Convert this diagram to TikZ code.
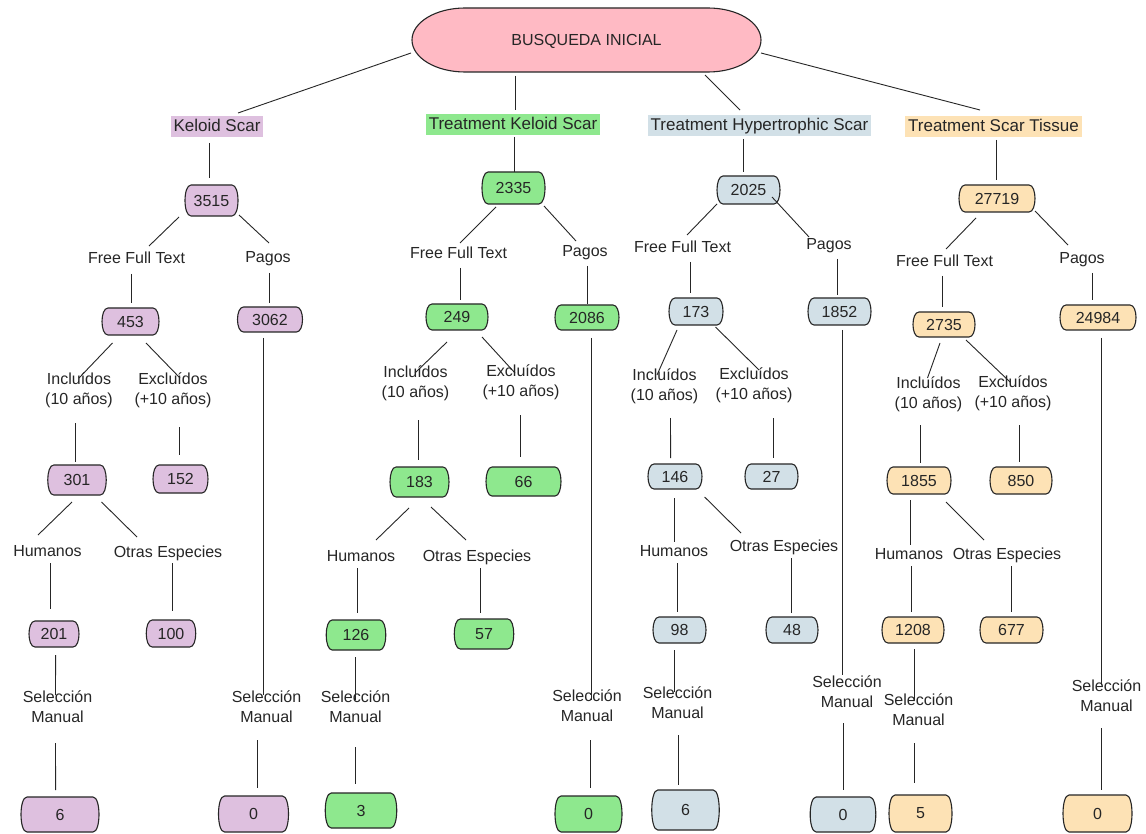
\documentclass[tikz,border=0pt]{standalone}
\usepackage{fontspec}
\setmainfont{Liberation Sans}
\usetikzlibrary{calc}
\definecolor{cpink}{HTML}{FFBAC4}
\definecolor{cviolet}{HTML}{DEC0DF}
\definecolor{cgreen}{HTML}{8EE88E}
\definecolor{cblue}{HTML}{D2E0E7}
\definecolor{corange}{HTML}{FDE2B5}
\tikzset{
 conn/.style={draw=black!85, line width=0.9pt},
 boxline/.style={draw=black!85, line width=1.1pt},
 numtext/.style={inner sep=0pt, font=\fontsize{16}{19}\selectfont, text=black!85},
 lbl/.style={inner sep=0pt, font=\fontsize{16}{20}\selectfont, align=center, text=black!85, text height=11.5pt, text depth=3.5pt},
 ttl/.style={inner xsep=3pt, inner ysep=0pt, minimum height=21pt, font=\fontsize{17}{20}\selectfont, text=black!85, text height=12pt, text depth=3.5pt},
}
\newcommand\nb[7]{%
 \path[boxline, fill=#6] ({#2-#4/2+6},{-#3+#5/2}) -- ({#2+#4/2-6},{-#3+#5/2}) .. controls ({#2+#4/2+2},{-#3+#5/2}) and ({#2+#4/2+2},{-#3-#5/2}) .. ({#2+#4/2-6},{-#3-#5/2}) -- ({#2-#4/2+6},{-#3-#5/2}) .. controls ({#2-#4/2-2},{-#3-#5/2}) and ({#2-#4/2-2},{-#3+#5/2}) .. cycle;
 \node[numtext, minimum width=#4, minimum height=#5] (#1) at (#2,-#3) {#7};}
\newcommand\cnx[6]{\draw[conn] ([shift={(#2,#3)}]#1.center) -- ([shift={(#5,#6)}]#4.center);}
\begin{document}
\begin{tikzpicture}[x=1pt,y=1pt]
\fill[white] (0,0) rectangle (1146,-834);
\useasboundingbox (0,0) rectangle (1146,-834);
% root
\path[boxline, fill=cpink] (465,-8) -- (708,-8) arc[start angle=90,end angle=-90,x radius=53,y radius=32] -- (465,-72) arc[start angle=270,end angle=90,x radius=53,y radius=32] -- cycle;
\node[numtext, minimum width=349, minimum height=64] (root) at (586.5,-41) {BUSQUEDA INICIAL};
% titles
\node[ttl, fill=cviolet] (kel) at (217,-127) {Keloid Scar};
\node[ttl, fill=cgreen] (tks) at (513,-125) {Treatment Keloid Scar};
\node[ttl, fill=cblue] (ths) at (759.5,-126) {Treatment Hypertrophic Scar};
\node[ttl, fill=corange] (tst) at (993.5,-127) {Treatment Scar Tissue};
% boxes
\nb{v3515}{211.5}{200.5}{53}{31}{cviolet}{3515}
\nb{v453}{130.5}{321.5}{57}{27}{cviolet}{453}
\nb{v3062}{270}{319.5}{65}{25}{cviolet}{3062}
\nb{v301}{77}{480}{58.5}{30}{cviolet}{301}
\nb{v152}{180.5}{479}{55}{28}{cviolet}{152}
\nb{v201}{54}{634}{50}{26}{cviolet}{201}
\nb{v100}{171}{633.5}{49.5}{27}{cviolet}{100}
\nb{v6}{60}{814.5}{78}{35}{cviolet}{6}
\nb{v0}{253.5}{814}{70}{36}{cviolet}{0}
\nb{g2335}{513.5}{188}{63}{32}{cgreen}{2335}
\nb{g249}{457}{317}{62}{26}{cgreen}{249}
\nb{g2086}{587}{317.5}{64}{25}{cgreen}{2086}
\nb{g183}{419.5}{482}{59}{30}{cgreen}{183}
\nb{g66}{523.5}{481.5}{75}{29}{cgreen}{66}
\nb{g126}{356}{635}{59.6}{30}{cgreen}{126}
\nb{g57}{484}{634}{59.5}{30}{cgreen}{57}
\nb{g3}{361}{810.5}{71.5}{35}{cgreen}{3}
\nb{g0}{588.5}{814}{67}{36}{cgreen}{0}
\nb{b2025}{748.5}{190}{63}{28}{cblue}{2025}
\nb{b173}{696}{311.5}{54}{27}{cblue}{173}
\nb{b1852}{839.5}{311.5}{63}{27}{cblue}{1852}
\nb{b146}{675}{476.5}{54}{25}{cblue}{146}
\nb{b27}{771.5}{476.5}{53}{25}{cblue}{27}
\nb{b98}{679.5}{630}{53}{26}{cblue}{98}
\nb{b48}{792}{630}{52}{26}{cblue}{48}
\nb{b6}{685.5}{810}{67.5}{40}{cblue}{6}
\nb{b0}{843}{814.5}{65.6}{35}{cblue}{0}
\nb{o27719}{997}{198.5}{76}{27}{corange}{27719}
\nb{o2735}{944}{324.5}{62}{25}{corange}{2735}
\nb{o24984}{1098}{317.5}{76}{25}{corange}{24984}
\nb{o1855}{919}{480.5}{64}{27}{corange}{1855}
\nb{o850}{1021}{480.5}{62}{27}{corange}{850}
\nb{o1208}{913}{630}{62}{26}{corange}{1208}
\nb{o677}{1011.5}{630}{63}{26}{corange}{677}
\nb{o5}{920.5}{813.5}{63}{37}{corange}{5}
\nb{o0}{1097.5}{813.5}{69}{37}{corange}{0}
% labels
\node[lbl] (vfft) at (136.5,-260) {Free Full Text};
\node[lbl] (vpag) at (268,-259) {Pagos};
\node[lbl] (vinc) at (79,-400) {Incluídos\\(10 años)};
\node[lbl] (vexc) at (173,-400) {Excluídos\\(+10 años)};
\node[lbl] (vhum) at (47.5,-552) {Humanos};
\node[lbl] (voth) at (168,-553) {Otras Especies};
\node[lbl] (vsel) at (57.5,-718) {Selección\\Manual};
\node[lbl] (vselb) at (266.5,-718) {Selección\\Manual};
\node[lbl] (gfft) at (458.5,-255) {Free Full Text};
\node[lbl] (gpag) at (585,-253) {Pagos};
\node[lbl] (ginc) at (415.5,-393) {Incluídos\\(10 años)};
\node[lbl] (gexc) at (521,-392) {Excluídos\\(+10 años)};
\node[lbl] (ghum) at (361,-557) {Humanos};
\node[lbl] (goth) at (477,-557) {Otras Especies};
\node[lbl] (gsel) at (355.5,-718) {Selección\\Manual};
\node[lbl] (gselb) at (587,-717) {Selección\\Manual};
\node[lbl] (bfft) at (682.5,-249) {Free Full Text};
\node[lbl] (bpag) at (829,-246) {Pagos};
\node[lbl] (binc) at (664.5,-396) {Incluídos\\(10 años)};
\node[lbl] (bexc) at (754,-395) {Excluídos\\(+10 años)};
\node[lbl] (bhum) at (674,-552) {Humanos};
\node[lbl] (both) at (784,-547) {Otras Especies};
\node[lbl] (bsel) at (677.5,-714) {Selección\\Manual};
\node[lbl] (bselb) at (847,-703.5) {Selección\\Manual};
\node[lbl] (offt) at (944.5,-263) {Free Full Text};
\node[lbl] (opag) at (1082,-260) {Pagos};
\node[lbl] (oinc) at (928.5,-404) {Incluídos\\(10 años)};
\node[lbl] (oexc) at (1013,-403.5) {Excluídos\\(+10 años)};
\node[lbl] (ohum) at (909,-555) {Humanos};
\node[lbl] (ooth) at (1007,-555) {Otras Especies};
\node[lbl] (osel) at (918.5,-721.5) {Selección\\Manual};
\node[lbl] (oselb) at (1106.5,-707) {Selección\\Manual};
% root connectors
\cnx{root}{-175.5}{-12}{kel}{21}{14}
\cnx{root}{-71.5}{-35}{tks}{2}{15}
\cnx{root}{118.5}{-34}{ths}{-19.5}{16}
\cnx{root}{174.5}{-12}{tst}{-13.5}{17}
% column 1
\cnx{kel}{-8}{-16}{v3515}{-2.5}{22.5}
\cnx{v3515}{-32.5}{-16.5}{vfft}{12.5}{14}
\cnx{v3515}{27.5}{-14.5}{vpag}{1}{16}
\cnx{vfft}{-5}{-14}{v453}{1}{18.5}
\cnx{vpag}{1}{-14}{v3062}{-1}{16.5}
\cnx{v453}{-18}{-21.5}{vinc}{0}{22}
\cnx{v453}{15.5}{-21.5}{vexc}{7}{22}
\cnx{vinc}{-4}{-23}{v301}{-2}{18}
\cnx{vexc}{6}{-27}{v152}{-1.5}{24}
\cnx{v301}{-5}{-22}{vhum}{-9.5}{17}
\cnx{v301}{24.5}{-22}{voth}{-31}{16}
\cnx{vhum}{2.5}{-11}{v201}{-4}{25}
\cnx{voth}{4}{-10}{v100}{1}{22.5}
\cnx{v201}{1.6}{-21}{vsel}{-2}{23}
\cnx{vsel}{-2}{-25}{v6}{-4.4}{24.5}
\cnx{v3062}{-7}{-18.5}{vselb}{-3.5}{23}
\cnx{vselb}{-9}{-22}{v0}{4}{26}
% column 2
\cnx{tks}{1}{-12}{g2335}{0.5}{16}
\cnx{g2335}{-17.5}{-19}{gfft}{1.5}{12}
\cnx{g2335}{30.5}{-18}{gpag}{-9}{12}
\cnx{gfft}{2}{-13}{g249}{3.5}{17}
\cnx{gpag}{2}{-13}{g2086}{0}{13.5}
\cnx{g249}{-10}{-25}{ginc}{-0.5}{20}
\cnx{g249}{25}{-20}{gexc}{-6}{19}
\cnx{ginc}{3}{-27}{g183}{-1}{22}
\cnx{gexc}{-1}{-23}{g66}{-3.5}{24.5}
\cnx{g183}{-10.5}{-26}{ghum}{15}{17}
\cnx{g183}{11.5}{-25}{goth}{-11}{17}
\cnx{ghum}{-3.5}{-11}{g126}{1.5}{22}
\cnx{goth}{3}{-11}{g57}{-4}{21}
\cnx{g126}{-1}{-22}{gsel}{-0.5}{18}
\cnx{gsel}{-0.5}{-29}{g3}{-6}{26.5}
\cnx{g2086}{4}{-20.5}{gselb}{4}{17}
\cnx{gselb}{3.5}{-23}{g0}{2}{26}
% column 3
\cnx{ths}{-16.5}{-13}{b2025}{-5.5}{18}
\cnx{b2025}{-31.5}{-14}{bfft}{4.5}{14}
\cnx{b2025}{23.5}{-7}{bpag}{-20}{9}
\cnx{bfft}{7.5}{-13}{b173}{-6}{18.5}
\cnx{bpag}{8}{-13}{b1852}{-2.5}{16.5}
\cnx{b173}{-19}{-18.5}{binc}{-7.5}{21}
\cnx{b173}{19.5}{-15.5}{bexc}{5}{25}
\cnx{binc}{6}{-22}{b146}{-4.4}{18.5}
\cnx{bexc}{19}{-23}{b27}{1.5}{18.5}
\cnx{b146}{-1}{-21.5}{bhum}{0}{10}
\cnx{b146}{29.6}{-20.5}{both}{-43}{14}
\cnx{bhum}{3}{-11}{b98}{-2.5}{18}
\cnx{both}{7}{-11}{b48}{-1}{17}
\cnx{b98}{-5.5}{-20}{bsel}{-3.5}{22}
\cnx{bsel}{0.5}{-21}{b6}{-7.5}{25}
\cnx{b1852}{2.5}{-18.5}{bselb}{-5}{28.5}
\cnx{bselb}{-3.5}{-19.5}{b0}{0.5}{25}
% column 4
\cnx{tst}{2.5}{-13}{o27719}{-1}{18.5}
\cnx{o27719}{-21}{-19.5}{offt}{1.5}{14}
\cnx{o27719}{38}{-12.5}{opag}{-14}{15}
\cnx{offt}{-2.5}{-13}{o2735}{-2}{17.5}
\cnx{opag}{10}{-13}{o24984}{-6}{17.5}
\cnx{o2735}{-4}{-18.5}{oinc}{-1}{26}
\cnx{o2735}{22}{-15.5}{oexc}{-3}{21.5}
\cnx{oinc}{-8.5}{-21}{o1855}{1}{17.5}
\cnx{oexc}{6.6}{-21.5}{o850}{-1.4}{18.5}
\cnx{o1855}{-9}{-19.5}{ohum}{1}{10}
\cnx{o1855}{27}{-21.5}{ooth}{-23}{15}
\cnx{ohum}{2}{-11}{o1208}{-2}{18}
\cnx{ooth}{4}{-11}{o677}{-0.5}{18}
\cnx{o1208}{1}{-19}{osel}{-4.5}{21.5}
\cnx{osel}{-4.5}{-21.5}{o5}{-6.5}{30.5}
\cnx{o24984}{3}{-20.5}{oselb}{-5.5}{22}
\cnx{oselb}{-5.5}{-21}{o0}{3.5}{23.5}
\end{tikzpicture}
\end{document}
